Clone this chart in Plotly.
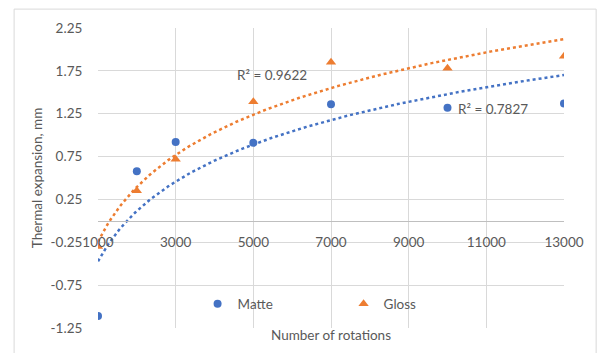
import numpy as np
import plotly.graph_objects as go

rotations = [1000, 2000, 3000, 5000, 7000, 10000, 13000]
matte = [-1.11, 0.58, 0.92, 0.91, 1.36, 1.32, 1.37]
gloss = [-0.30, 0.35, 0.72, 1.39, 1.85, 1.78, 1.92]
r2_labels = ["R² = 0.7827", "R² = 0.9622"]
x_ticks = [1000, 3000, 5000, 7000, 9000, 11000, 13000]
y_ticks = [2.25, 1.75, 1.25, 0.75, 0.25, -0.25, -0.75, -1.25]

BLUE = "#4472C4"
ORANGE = "#ED7D31"
GRID = "#D9D9D9"
TXT = "#595959"
FONT = "Lato, 'Open Sans', sans-serif"
FS = 13.5


def log_trend(xs, ys):
    lx = np.log(np.array(xs, dtype=float))
    b, a = np.polyfit(lx, np.array(ys, dtype=float), 1)
    xx = np.linspace(min(xs), max(xs), 200)
    return xx, a + b * np.log(xx)


fig = go.Figure()

for ys, col in [(matte, BLUE), (gloss, ORANGE)]:
    tx, ty = log_trend(rotations, ys)
    fig.add_trace(go.Scatter(x=tx, y=ty, mode="lines", showlegend=False,
                             line=dict(color=col, width=2.5, dash="dot"),
                             hoverinfo="skip"))

fig.add_trace(go.Scatter(x=rotations, y=matte, mode="markers", name="Matte",
                         marker=dict(symbol="circle", size=8, color=BLUE)))
fig.add_trace(go.Scatter(x=rotations, y=gloss, mode="markers", name="Gloss",
                         marker=dict(symbol="triangle-up", size=9, color=ORANGE)))

# invisible trace on the crossing x axis (at y = 0)
fig.add_trace(go.Scatter(x=[rotations[0]], y=[0], xaxis="x2", mode="markers",
                         marker=dict(opacity=0), showlegend=False, hoverinfo="skip"))

ymin, ymax = -1.25, 2.25
zero_pos = (0 - ymin) / (ymax - ymin)

fig.update_layout(
    width=598, height=353,
    margin=dict(l=98, r=34, t=28, b=25),
    paper_bgcolor="white", plot_bgcolor="white",
    font=dict(family=FONT, size=FS, color=TXT),
    xaxis=dict(range=[1000, 13000], tickvals=x_ticks, showticklabels=False,
               showgrid=True, gridcolor=GRID, gridwidth=1, zeroline=False,
               showline=False, mirror=False,
               title=dict(text="Number of rotations", standoff=2,
                          font=dict(size=FS, color=TXT))),
    xaxis2=dict(range=[1000, 13000], tickvals=x_ticks,
                ticktext=[str(v) for v in x_ticks], overlaying="x",
                anchor="free", position=zero_pos, side="bottom",
                showgrid=False, zeroline=False, showline=True,
                linecolor="#BFBFBF", linewidth=1,
                ticks="outside", ticklen=9, tickcolor="rgba(0,0,0,0)",
                tickfont=dict(size=FS, color=TXT)),
    yaxis=dict(range=[ymin, ymax], tickvals=y_ticks,
               ticktext=[f"{v:.2f}" for v in y_ticks],
               showgrid=True, gridcolor=GRID, gridwidth=1, zeroline=False,
               showline=False,
               ticks="outside", ticklen=12, tickcolor="rgba(0,0,0,0)",
               title=dict(text="Thermal expansion, mm", standoff=4,
                          font=dict(size=FS, color=TXT))),
    legend=dict(orientation="h", x=0.527, xanchor="center", y=0.08, yanchor="middle",
                bgcolor="rgba(0,0,0,0)", entrywidth=101, entrywidthmode="pixels",
                font=dict(size=FS, color=TXT)),
    showlegend=True,
    annotations=[
        dict(x=10000, y=1.31, xref="x", yref="y", text=r2_labels[0],
             showarrow=False, xanchor="left", yanchor="middle", xshift=8,
             font=dict(size=FS, color=TXT)),
        dict(x=5480, y=1.70, xref="x", yref="y", text=r2_labels[1],
             showarrow=False, xanchor="center", yanchor="middle",
             font=dict(size=FS, color=TXT)),
    ],
    shapes=[dict(type="rect", xref="paper", yref="paper",
                 x0=-0.180, x1=1.069, y0=-0.11, y1=1.063,
                 line=dict(color="#D9D9D9", width=1), layer="below")],
)

fig.write_html("out.html")
